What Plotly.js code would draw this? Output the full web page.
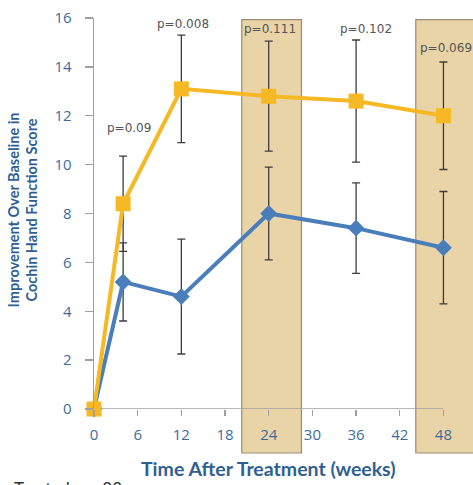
<!DOCTYPE html>
<html>
<head>
<meta charset="utf-8">
<script src="https://cdn.plot.ly/plotly-3.0.1.min.js"></script>
<style>
  html, body { margin: 0; padding: 0; background: #fff; overflow: hidden; }
  #chart { width: 473px; height: 485px; }
</style>
</head>
<body>
<div id="chart"></div>
<script>
// Weeks after treatment at which the score was measured
const weeks = [0, 4, 12, 24, 36, 48];

// Improvement over baseline (Cochin Hand Function Score), two treatment arms
const goldMean = [0, 8.4, 13.1, 12.8, 12.6, 12.0];
const goldErr  = [0, 1.95, 2.2, 2.25, 2.5, 2.2];
const blueMean = [0, 5.2, 4.6, 8.0, 7.4, 6.6];
const blueErr  = [0, 1.6, 2.35, 1.9, 1.85, 2.3];

// Between-group p-values and the week each one refers to
const pWeeks  = [4, 12, 24, 36, 48];
const pLabels = ['p=0.09', 'p=0.008', 'p=0.111', 'p=0.102', 'p=0.069'];

// Highlighted time windows (weeks)
const bandStart = [20.3, 44.2];
const bandEnd   = [28.5, 60];

// Axis ticks
const xTicks = [0, 6, 12, 18, 24, 30, 36, 42, 48];
const yTicks = [0, 2, 4, 6, 8, 10, 12, 14, 16];

const tickBlue  = '#3d6b9c';
const titleBlue = '#2f5f92';
const axisGrey  = '#a0a0a0';

const errStyle = (arr) => ({
  type: 'data', array: arr, visible: true,
  color: '#3c3c3c', thickness: 1.3, width: 4
});

const traces = [
  {
    x: weeks, y: blueMean, type: 'scatter', mode: 'lines+markers',
    line: { color: '#4a7ebb', width: 4 },
    marker: { symbol: 'diamond', size: 13, color: '#4a7ebb' },
    error_y: errStyle(blueErr),
    cliponaxis: false, hoverinfo: 'skip'
  },
  {
    x: weeks, y: goldMean, type: 'scatter', mode: 'lines+markers',
    line: { color: '#f7b825', width: 4 },
    marker: { symbol: 'square', size: 15, color: '#f7b825' },
    error_y: errStyle(goldErr),
    cliponaxis: false, hoverinfo: 'skip'
  }
];

const shapes = bandStart.map((s, i) => ({
  type: 'rect', layer: 'below',
  xref: 'x', yref: 'paper',
  x0: s, x1: bandEnd[i], y0: -0.1125, y1: 0.996,
  fillcolor: '#e9d4a7', line: { color: '#9b8c74', width: 1.2 }
}));
// Horizontal axis line, ending at the last tick
shapes.push({
  type: 'line', layer: 'below', xref: 'x', yref: 'y',
  x0: 0, x1: xTicks[xTicks.length - 1], y0: 0, y1: 0,
  line: { color: axisGrey, width: 1.3 }
});

// p-value label placement (week offset, score height, anchor)
const pPlace = [
  { dx: 0.8, y: 11.5, xanchor: 'center' },
  { dx: 0.2, y: 15.75, xanchor: 'center' },
  { dx: 0.2, y: 15.55, xanchor: 'center' },
  { dx: 1.4, y: 15.55, xanchor: 'center' },
  { dx: -3.5, y: 14.77, xanchor: 'left' }
];

const annotations = pLabels.map((t, i) => ({
  text: t, xref: 'x', yref: 'y',
  x: pWeeks[i] + pPlace[i].dx, y: pPlace[i].y,
  xanchor: pPlace[i].xanchor, yanchor: 'middle',
  showarrow: false,
  font: { family: 'DejaVu Sans', size: 12, color: '#555555' }
}));

annotations.push({
  text: 'Time After Treatment (weeks)',
  xref: 'paper', yref: 'paper', x: 0.4617, y: -0.151,
  xanchor: 'center', yanchor: 'middle', showarrow: false,
  font: { family: 'Lato', size: 19.5, color: titleBlue, weight: 'bold' }
});
annotations.push({
  text: '<b>Improvement Over Baseline in<br>Cochin Hand Function Score</b>',
  xref: 'paper', yref: 'paper', x: -0.1873, y: 0.508,
  xanchor: 'center', yanchor: 'middle', showarrow: false, textangle: -90,
  font: { family: 'Lato', size: 14.5, color: titleBlue }
});
annotations.push({
  text: 'Treated n = 23',
  xref: 'paper', yref: 'paper', x: -0.2164, y: -0.172,
  xanchor: 'left', yanchor: 'top', showarrow: false,
  font: { family: 'Lato', size: 17, color: '#333333' }
});

const layout = {
  width: 473, height: 485,
  margin: { l: 94, r: 0, t: 18, b: 76 },
  paper_bgcolor: '#ffffff', plot_bgcolor: 'rgba(0,0,0,0)',
  showlegend: false,
  xaxis: {
    range: [0, 52.06], tickvals: xTicks, ticktext: xTicks.map(String),
    showgrid: false, zeroline: false, showline: false,
    ticks: 'outside', ticklen: 6, tickcolor: axisGrey, tickwidth: 1.3,
    ticklabelstandoff: 6,
    tickfont: { family: 'Open Sans', size: 15, color: tickBlue }
  },
  yaxis: {
    range: [0, 16], tickvals: yTicks, ticktext: yTicks.map(String),
    showgrid: false, zeroline: false,
    showline: true, linecolor: axisGrey, linewidth: 1.3,
    ticks: 'outside', ticklen: 8, tickcolor: axisGrey, tickwidth: 1.3,
    ticklabelstandoff: 10,
    tickfont: { family: 'Open Sans', size: 15, color: tickBlue }
  },
  shapes: shapes,
  annotations: annotations
};

Plotly.newPlot('chart', traces, layout, { staticPlot: true, displayModeBar: false });
</script>
</body>
</html>
